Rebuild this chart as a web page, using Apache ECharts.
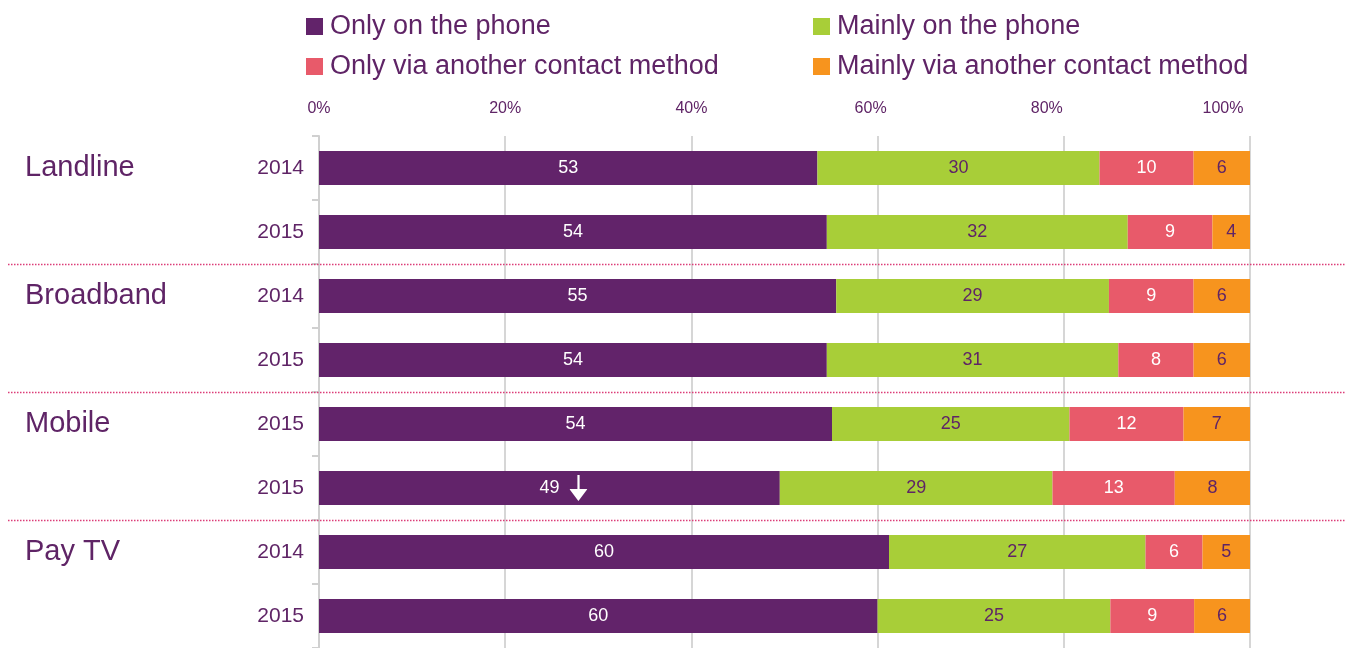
<!DOCTYPE html>
<html><head><meta charset="utf-8">
<script src="https://cdn.jsdelivr.net/npm/echarts@6/dist/echarts.min.js"></script>
<style>html,body{margin:0;padding:0;background:#fff}#c{width:1346px;height:648px}</style>
</head><body><div id="c"></div>
<script>
const categories = ['2014','2015','2014','2015','2015','2015','2014','2015'];
const groups = ['Landline','','Broadband','','Mobile','','Pay TV',''];
const seriesNames = ['Only on the phone','Mainly on the phone','Only via another contact method','Mainly via another contact method'];
const onlyPhone   = [53,54,55,54,54,49,60,60];
const mainlyPhone = [30,32,29,31,25,29,27,25];
const onlyOther   = [10,9,9,8,12,13,6,9];
const mainlyOther = [6,4,6,6,7,8,5,6];
const xTicks = ['0%','20%','40%','60%','80%','100%'];
const arrowIndex = 5; // down arrow marker on Mobile second row

const TXT = '#5F2466';
const colors = ['#62236A','#A8CE38','#E85A6A','#F7941E'];
const labelColors = ['#ffffff', TXT, '#ffffff', TXT];
const raw = [onlyPhone, mainlyPhone, onlyOther, mainlyOther];
const totals = categories.map((_, i) => raw.reduce((s, a) => s + a[i], 0));
const FONT = 'Liberation Sans, Arial, sans-serif';

const arrowSvg = 'data:image/svg+xml;charset=utf-8,' + encodeURIComponent(
  '<svg xmlns="http://www.w3.org/2000/svg" width="18" height="26" viewBox="0 0 18 26">' +
  '<rect x="8" y="0" width="2.2" height="15" fill="#ffffff"/>' +
  '<path d="M0,14 L18,14 L9,26 Z" fill="#ffffff"/></svg>');
const arrowImg = new Image();
arrowImg.src = arrowSvg;

const chart = echarts.init(document.getElementById('c'));
const series = raw.map((arr, si) => ({
  name: seriesNames[si], type: 'bar', stack: 'total', barWidth: 34,
  yAxisIndex: 0,
  itemStyle: { color: colors[si] },
  data: arr.map((v, i) => v / totals[i] * 100),
  label: {
    show: true, position: 'inside', color: labelColors[si], fontSize: 18, fontFamily: FONT,
    formatter: p => (si === 0 && p.dataIndex === arrowIndex)
      ? '{s|}{v|' + arr[p.dataIndex] + '}{g|}{a|}'
      : String(arr[p.dataIndex]),
    rich: {
      s: { width: 28 },
      v: { fontSize: 18, color: '#fff', fontFamily: FONT },
      g: { width: 10 },
      a: { width: 18, height: 26, backgroundColor: { image: arrowImg } }
    }
  }
}));

function build() {
  chart.setOption({
    animation: false,
    textStyle: { fontFamily: FONT },
    legend: [
      { data: [seriesNames[0], seriesNames[2]], orient: 'vertical', left: 306, top: 13, padding: 0,
        itemWidth: 17, itemHeight: 17, itemGap: 13, icon: 'rect',
        textStyle: { fontSize: 27, color: TXT, fontFamily: FONT, padding: [0, 0, 0, 2] } },
      { data: [seriesNames[1], seriesNames[3]], orient: 'vertical', left: 813, top: 13, padding: 0,
        itemWidth: 17, itemHeight: 17, itemGap: 13, icon: 'rect',
        textStyle: { fontSize: 27, color: TXT, fontFamily: FONT, padding: [0, 0, 0, 2] } }
    ],
    grid: { left: 319, right: 96, top: 136, height: 516, containLabel: false },
    xAxis: {
      type: 'value', position: 'top', min: 0, max: 100, interval: 20,
      axisLine: { show: false }, axisTick: { show: false },
      splitLine: { lineStyle: { color: '#D6D6D6', width: 2 } },
      axisLabel: {
        margin: 19, fontSize: 16, color: TXT, fontFamily: FONT,
        formatter: v => { const k = xTicks[v / 20]; return (v >= 60) ? '{p' + v + '|' + k + '}' : k; },
        rich: {
          p60: { padding: [0, 14, 0, 0], fontSize: 16, color: TXT },
          p80: { padding: [0, 34, 0, 0], fontSize: 16, color: TXT },
          p100: { padding: [0, 54, 0, 0], fontSize: 16, color: TXT }
        }
      }
    },
    yAxis: [
      { type: 'category', data: categories, inverse: true,
        axisLine: { lineStyle: { color: '#D0D0D0', width: 2 } },
        axisTick: { show: true, length: 7, lineStyle: { color: '#D0D0D0', width: 2 } },
        axisLabel: { fontSize: 21, color: TXT, margin: 15, fontFamily: FONT } },
      { type: 'category', data: groups, inverse: true, position: 'left',
        axisLine: { show: false }, axisTick: { show: false },
        axisLabel: { align: 'left', margin: 294, fontSize: 29, color: TXT, fontFamily: FONT } }
    ],
    series: series
  });

  // dotted separators between groups, at category band boundaries
  const lines = [];
  [2, 4, 6].forEach(k => {
    const a = chart.convertToPixel({ yAxisIndex: 0 }, k - 1);
    const b = chart.convertToPixel({ yAxisIndex: 0 }, k);
    const y = Math.round((a + b) / 2) + 0.5;
    lines.push({ type: 'line', shape: { x1: 8, y1: y, x2: 1346, y2: y },
      style: { stroke: '#DC3D78', lineWidth: 1.5, lineDash: [1.5, 1.5] }, z: 10 });
  });
  chart.setOption({ graphic: lines });
}
build();
arrowImg.onload = () => { chart.clear(); build(); };
</script></body></html>
